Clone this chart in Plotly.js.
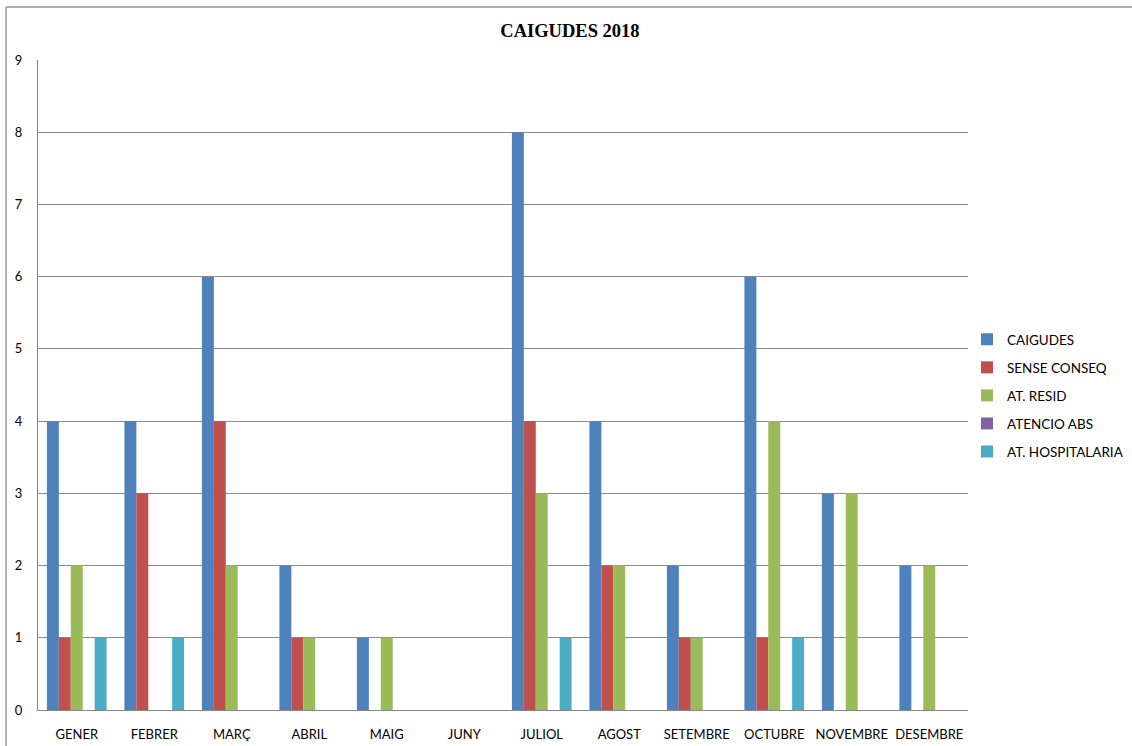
<!DOCTYPE html>
<html>
<head>
<meta charset="utf-8">
<script src="https://cdn.plot.ly/plotly-3.0.1.min.js"></script>
<style>
  html, body { margin: 0; padding: 0; background: #fff; }
  #chart { width: 1132px; height: 746px; }
</style>
</head>
<body>
<div id="chart"></div>
<script>
// Monthly falls for 2018, broken down by outcome
const months = ['GENER', 'FEBRER', 'MARÇ', 'ABRIL', 'MAIG', 'JUNY', 'JULIOL', 'AGOST', 'SETEMBRE', 'OCTUBRE', 'NOVEMBRE', 'DESEMBRE'];
const caigudes      = [4, 4, 6, 2, 1, 0, 8, 4, 2, 6, 3, 2];
const senseConseq   = [1, 3, 4, 1, 0, 0, 4, 2, 1, 1, 0, 0];
const atResid       = [2, 0, 2, 1, 1, 0, 3, 2, 1, 4, 3, 2];
const atencioAbs    = [0, 0, 0, 0, 0, 0, 0, 0, 0, 0, 0, 0];
const atHospitalaria = [1, 1, 0, 0, 0, 0, 1, 0, 0, 1, 0, 0];

const seriesNames = ['CAIGUDES', 'SENSE CONSEQ', 'AT. RESID', 'ATENCIO ABS', 'AT. HOSPITALARIA'];
const seriesValues = [caigudes, senseConseq, atResid, atencioAbs, atHospitalaria];
const seriesColors = ['#4F81BD', '#C0504D', '#9BBB59', '#8064A2', '#4BACC6'];

const uiFont = 'Lato, "Open Sans", "Liberation Sans", sans-serif';

const traces = seriesNames.map((name, i) => ({
  type: 'bar',
  name: name,
  x: months,
  y: seriesValues[i],
  legendgroup: 'g' + i,
  marker: { color: seriesColors[i], line: { width: 0 } },
  hoverinfo: 'x+y+name'
}));

const L = 38, R = 968, T = 60, B = 710;
const W = R - L, H = B - T;
const px = v => (v - L) / W;
const py = v => (B - v) / H;

const layout = {
  width: 1132,
  height: 746,
  margin: { l: L, r: 1132 - R, t: T, b: 746 - B, pad: 0, autoexpand: false },
  paper_bgcolor: '#ffffff',
  plot_bgcolor: '#ffffff',
  barmode: 'group',
  bargap: 0.23,
  bargroupgap: 0,
  showlegend: true,
  title: {
    text: '<b>CAIGUDES 2018</b>',
    font: { family: '"Liberation Serif", "Times New Roman", serif', size: 18.5, color: '#000' },
    x: 0.5035, xanchor: 'center', xref: 'container',
    y: 1 - 31 / 746, yanchor: 'middle'
  },
  xaxis: {
    type: 'category',
    showgrid: false,
    showline: true,
    linecolor: '#868686',
    linewidth: 1,
    ticks: '',
    tickfont: { family: uiFont, size: 13, color: '#000' },
    ticklabelstandoff: 12,
    fixedrange: true
  },
  yaxis: {
    range: [0, 9],
    dtick: 1,
    tick0: 0,
    showgrid: true,
    gridcolor: '#8c8c8c',
    gridwidth: 1,
    zeroline: false,
    showline: true,
    linecolor: '#868686',
    linewidth: 1,
    ticks: '',
    tickfont: { family: uiFont, size: 13, color: '#000' },
    ticklabelstandoff: 12,
    fixedrange: true
  },
  legend: {
    x: px(967), xanchor: 'left',
    y: py(324), yanchor: 'top',
    traceorder: 'grouped',
    tracegroupgap: 7.5,
    itemwidth: 30,
    font: { family: uiFont, size: 13.5, color: '#000' },
    bgcolor: 'rgba(0,0,0,0)',
    borderwidth: 0
  },
  shapes: [
    // chart-area frame along the top and left edges
    { type: 'line', xref: 'paper', yref: 'paper', x0: px(6), x1: px(1132), y0: py(7), y1: py(7),
      line: { color: '#9a9a9a', width: 1.5 } },
    { type: 'line', xref: 'paper', yref: 'paper', x0: px(6), x1: px(6), y0: py(7), y1: py(746),
      line: { color: '#9a9a9a', width: 1.5 } }
  ]
};

Plotly.newPlot('chart', traces, layout, { displayModeBar: false, staticPlot: true });
</script>
</body>
</html>
